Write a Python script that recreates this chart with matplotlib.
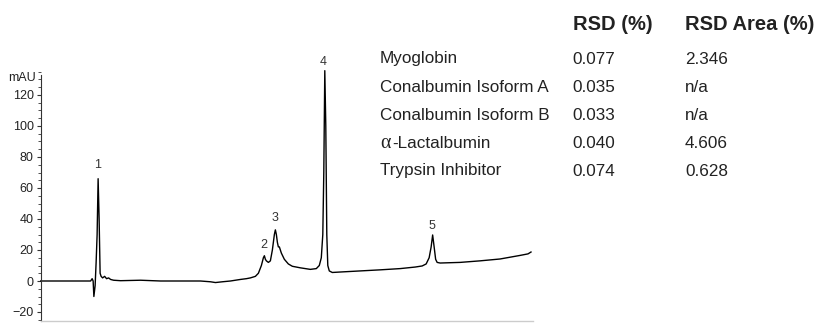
import matplotlib.pyplot as plt
from matplotlib.ticker import MultipleLocator
from matplotlib import font_manager

# chromatogram trace (time in min, absorbance in mAU)
time_min = [0.00, 2.00, 2.06, 2.10, 2.13, 2.18, 2.22, 2.26, 2.30, 2.34, 2.38, 2.42,
            2.48, 2.56, 2.64, 2.72, 2.80, 2.92, 3.20, 4.00, 4.80, 5.60, 6.40, 6.80,
            7.00, 7.28, 7.60, 8.00, 8.24, 8.40, 8.60, 8.72, 8.84, 8.92, 8.96, 9.00,
            9.04, 9.12, 9.20, 9.28, 9.36, 9.40, 9.44, 9.48, 9.52, 9.56, 9.64, 9.76,
            9.92, 10.08, 10.40, 10.80, 11.04, 11.16, 11.24, 11.30, 11.34, 11.38, 11.42,
            11.46, 11.50, 11.56, 11.68, 12.00, 12.80, 13.60, 14.40, 15.00, 15.28, 15.44,
            15.56, 15.64, 15.70, 15.76, 15.82, 15.88, 16.00, 16.80, 17.60, 18.40, 19.20,
            19.52, 19.64]
mau = [0.0, 0.0, 1.5, 0.0, -10.0, -3.0, 12.0, 30.0, 66.0, 40.0, 5.0, 3.0,
       2.0, 3.0, 1.5, 2.0, 1.0, 0.5, 0.2, 0.5, 0.0, 0.0, 0.0, -0.5,
       -1.0, -0.5, 0.0, 1.0, 1.5, 2.0, 3.0, 5.0, 10.0, 15.0, 16.3, 14.0,
       13.0, 12.0, 13.0, 20.0, 30.0, 33.0, 30.0, 25.0, 22.0, 22.0, 18.0, 14.0,
       11.0, 9.5, 8.5, 7.5, 8.0, 10.0, 15.0, 30.0, 70.0, 135.7, 100.0,
       30.0, 10.0, 6.5, 5.5, 5.8, 6.5, 7.2, 8.0, 9.0, 9.7, 11.0,
       15.0, 22.0, 29.7, 22.0, 14.0, 12.0, 11.6, 12.0, 13.0, 14.2, 16.5,
       17.5, 18.7]

peak_labels = ['1', '2', '3', '4', '5']
peak_times = [2.28, 8.92, 9.40, 11.32, 15.68]
peak_label_y = [74.8, 23.2, 40.6, 141.3, 35.5]

proteins = ['Myoglobin', 'Conalbumin Isoform A', 'Conalbumin Isoform B',
            '-Lactalbumin', 'Trypsin Inhibitor']
rsd = ['0.077', '0.035', '0.033', '0.040', '0.074']
rsd_area = ['2.346', 'n/a', 'n/a', '4.606', '0.628']

names = {f.name for f in font_manager.fontManager.ttflist}
narrow = 'Liberation Sans Narrow' if 'Liberation Sans Narrow' in names else 'Liberation Sans'
plt.rcParams['font.family'] = [narrow, 'DejaVu Sans']

W, H = 819, 323
fig = plt.figure(figsize=(W / 100, H / 100), dpi=100)
ax = fig.add_axes([40.7 / W, 1.7 / H, (533 - 40.7) / W, (321.3 - 68.65) / H])

ax.plot(time_min, mau, color='black', lw=1.0, clip_on=False)
for lab, t, y in zip(peak_labels, peak_times, peak_label_y):
    ax.text(t, y, lab, ha='center', va='center', fontsize=9, color='#333333')

ax.set_xlim(0, 19.72)
ax.set_ylim(-26, 137)
ax.yaxis.set_major_locator(MultipleLocator(20))
ax.yaxis.set_minor_locator(MultipleLocator(5))
ax.set_yticks(range(-20, 121, 20))
ax.tick_params(axis='y', which='major', length=3, width=0.8, pad=2,
               labelsize=9, color='#333333', labelcolor='#222222')
ax.tick_params(axis='y', which='minor', length=2, width=0.6, color='#333333')
ax.set_xticks([])
for s in ['top', 'right']:
    ax.spines[s].set_visible(False)
ax.spines['left'].set_bounds(-26, 133)
ax.spines['left'].set_color('#333333')
ax.spines['left'].set_linewidth(0.8)
ax.spines['bottom'].set_color('#cccccc')
ax.spines['bottom'].set_linewidth(1.0)

fig.text(22 / W, 1 - 78 / H, 'mAU', ha='center', va='center', fontsize=9, color='#222222')

# RSD table
fs = 12.3
fig.text(573 / W, 1 - 24 / H, 'RSD (%)', ha='left', va='center', fontsize=14.5,
         fontweight='bold', color='#222222')
fig.text(685 / W, 1 - 24 / H, 'RSD Area (%)', ha='left', va='center', fontsize=14.5,
         fontweight='bold', color='#222222')
row_y = [59, 87, 115, 143, 171]
for name, r, a, y in zip(proteins, rsd, rsd_area, row_y):
    yy = 1 - y / H
    if name.startswith('-'):
        fig.text(380 / W, yy, '\u03b1', ha='left', va='center', fontsize=fs + 2,
                 family='Liberation Serif', color='#222222')
        fig.text(392 / W, yy, name, ha='left', va='center', fontsize=fs, color='#222222')
    else:
        fig.text(380 / W, yy, name, ha='left', va='center', fontsize=fs, color='#222222')
    fig.text(572 / W, yy, r, ha='left', va='center', fontsize=fs, color='#222222')
    fig.text(685 / W, yy, a, ha='left', va='center', fontsize=fs, color='#222222')

fig.savefig('out.png', dpi=100)
